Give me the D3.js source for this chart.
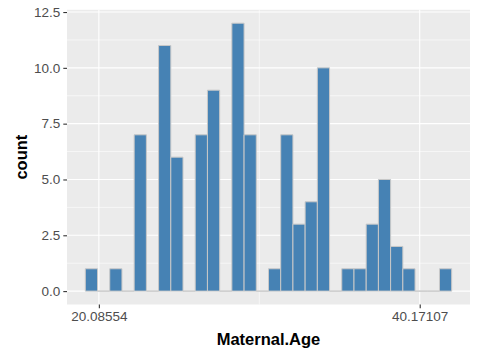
<!DOCTYPE html>
<html>
<head>
<meta charset="utf-8">
<script src="https://cdn.jsdelivr.net/npm/d3@7"></script>
<style>
  html, body { margin: 0; padding: 0; background: #ffffff; }
  svg { display: block; }
  text { font-family: "Liberation Sans", Arial, sans-serif; }
</style>
</head>
<body>
<svg id="chart" width="480" height="360"></svg>
<script>
// ---- data (30 bins) ----
const counts = [1, 0, 1, 0, 7, 0, 11, 6, 0, 7, 9, 0, 12, 7, 0, 1, 7, 3, 4, 10, 0, 1, 1, 3, 5, 2, 1, 0, 0, 1];
const dataMin = 19.62;   // smallest Maternal.Age (first bin centre)
const dataMax = 41.79;   // largest Maternal.Age (last bin centre)
const xTickValues = [20.08554, 40.17107];
const xTickLabels = ["20.08554", "40.17107"];
const xMinorValues = [30.128305];
const yTickValues = [0, 2.5, 5, 7.5, 10, 12.5];
const yTickLabels = ["0.0", "2.5", "5.0", "7.5", "10.0", "12.5"];
const yMinorValues = [1.25, 3.75, 6.25, 8.75, 11.25];
const xTitle = "Maternal.Age";
const yTitle = "count";

// ---- bins like ggplot2 (bins = 30, width = range/29, centred on min) ----
const nBins = counts.length;
const binW = (dataMax - dataMin) / (nBins - 1);
const bins = counts.map((c, i) => ({
  x0: dataMin - binW / 2 + i * binW,
  x1: dataMin + binW / 2 + i * binW,
  count: c
}));

// ---- layout ----
const svg = d3.select("#chart");
const panel = { left: 67, right: 470, top: 9.8, bottom: 304.5 };

const xLo = bins[0].x0, xHi = bins[nBins - 1].x1;
const xPad = (xHi - xLo) * 0.05;
const x = d3.scaleLinear().domain([xLo - xPad, xHi + xPad]).range([panel.left, panel.right]);
const yMax = d3.max(counts);
const y = d3.scaleLinear().domain([-yMax * 0.05, yMax * 1.05]).range([panel.bottom, panel.top]);

// panel background
svg.append("rect")
  .attr("x", panel.left).attr("y", panel.top)
  .attr("width", panel.right - panel.left).attr("height", panel.bottom - panel.top)
  .attr("fill", "#EBEBEB");

const grid = svg.append("g");
// minor grid
grid.selectAll(".ymin").data(yMinorValues).enter().append("line")
  .attr("x1", panel.left).attr("x2", panel.right)
  .attr("y1", d => y(d)).attr("y2", d => y(d))
  .attr("stroke", "#ffffff").attr("stroke-width", 0.6);
grid.selectAll(".xmin").data(xMinorValues).enter().append("line")
  .attr("y1", panel.top).attr("y2", panel.bottom)
  .attr("x1", d => x(d)).attr("x2", d => x(d))
  .attr("stroke", "#ffffff").attr("stroke-width", 0.6);
// major grid
grid.selectAll(".ymaj").data(yTickValues).enter().append("line")
  .attr("x1", panel.left).attr("x2", panel.right)
  .attr("y1", d => y(d)).attr("y2", d => y(d))
  .attr("stroke", "#ffffff").attr("stroke-width", 1.1);
grid.selectAll(".xmaj").data(xTickValues).enter().append("line")
  .attr("y1", panel.top).attr("y2", panel.bottom)
  .attr("x1", d => x(d)).attr("x2", d => x(d))
  .attr("stroke", "#ffffff").attr("stroke-width", 1.1);

// bars (paths so that empty bins still show their outline on the baseline)
svg.append("g").selectAll("path").data(bins).enter().append("path")
  .attr("d", d => {
    const x0 = x(d.x0), x1 = x(d.x1), y0 = y(0), y1 = y(d.count);
    return `M${x0},${y0}H${x1}V${y1}H${x0}Z`;
  })
  .attr("fill", "#4682B4")
  .attr("stroke", "#C8C8C8")
  .attr("stroke-width", 1);

// axes
const xAxis = d3.axisBottom(x).tickValues(xTickValues)
  .tickFormat((d, i) => xTickLabels[i]).tickSizeInner(3.7).tickSizeOuter(0).tickPadding(3);
const gx = svg.append("g").attr("transform", `translate(0,${panel.bottom})`).call(xAxis);
gx.select(".domain").remove();
gx.selectAll(".tick line").attr("stroke", "#333333").attr("stroke-width", 1.1);
gx.selectAll(".tick text").attr("fill", "#4D4D4D").style("font-size", "13.5px")
  .style("font-family", "'Liberation Sans', Arial, sans-serif");

const yAxis = d3.axisLeft(y).tickValues(yTickValues)
  .tickFormat((d, i) => yTickLabels[i]).tickSizeInner(3.7).tickSizeOuter(0).tickPadding(3);
const gy = svg.append("g").attr("transform", `translate(${panel.left},0)`).call(yAxis);
gy.select(".domain").remove();
gy.selectAll(".tick line").attr("stroke", "#333333").attr("stroke-width", 1.1);
gy.selectAll(".tick text").attr("fill", "#4D4D4D").style("font-size", "13.5px")
  .style("font-family", "'Liberation Sans', Arial, sans-serif");

// titles
svg.append("text")
  .attr("x", (panel.left + panel.right) / 2).attr("y", 345)
  .attr("text-anchor", "middle")
  .style("font-size", "16.5px").style("font-weight", "bold").attr("fill", "#000")
  .text(xTitle);
svg.append("text")
  .attr("transform", `translate(27,${(panel.top + panel.bottom) / 2}) rotate(-90)`)
  .attr("text-anchor", "middle")
  .style("font-size", "16.5px").style("font-weight", "bold").attr("fill", "#000")
  .text(yTitle);
</script>
</body>
</html>
